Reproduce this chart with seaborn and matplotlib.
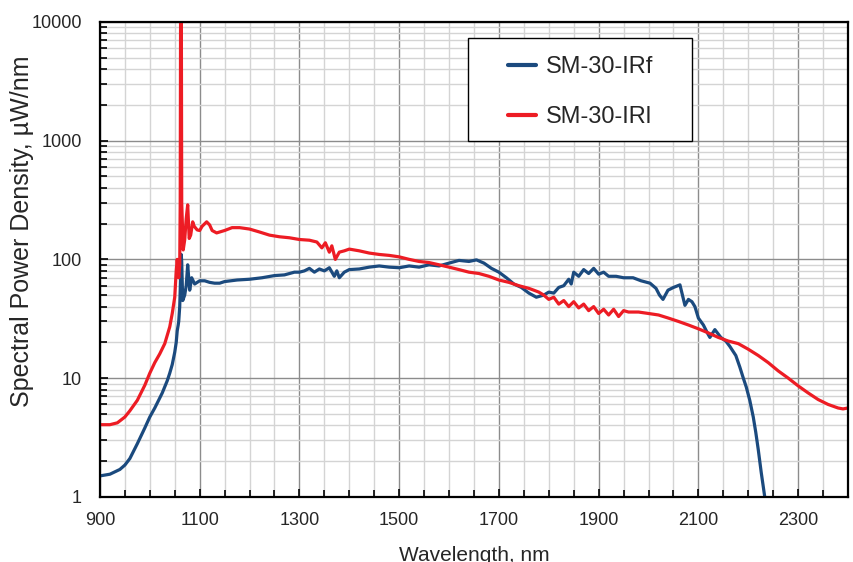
import numpy as np
import pandas as pd
import matplotlib
matplotlib.use("Agg")
import matplotlib.pyplot as plt
import matplotlib.ticker as mticker
from matplotlib.patches import Rectangle
import seaborn as sns

# =========================
# DATA
# =========================

irf_nm = [900, 920, 940, 950, 960, 975, 990, 1000, 1010, 1020, 1025, 1035, 1040,
          1045, 1050, 1053, 1055, 1057, 1058, 1060, 1061, 1063, 1064, 1066, 1070,
          1073, 1076, 1080, 1084, 1090, 1095, 1100, 1110, 1120, 1130, 1140, 1150,
          1175, 1200, 1225, 1250, 1270, 1290, 1300, 1310, 1320, 1330, 1340, 1350,
          1360, 1370, 1375, 1380, 1390, 1400, 1420, 1440, 1460, 1480, 1500, 1520,
          1540, 1560, 1580, 1600, 1620, 1640, 1655, 1670, 1685, 1700, 1715, 1730,
          1745, 1760, 1775, 1790, 1800, 1810, 1820, 1830, 1840, 1845, 1850, 1860,
          1870, 1880, 1890, 1900, 1910, 1920, 1935, 1950, 1969, 1985, 2003, 2015,
          2022, 2029, 2039, 2050, 2063, 2073, 2080, 2087, 2093, 2100, 2110, 2118,
          2123, 2133, 2145, 2155, 2163, 2175, 2183, 2190, 2196, 2203, 2210, 2215,
          2220, 2226, 2233]
irf_val = [1.50, 1.55, 1.7, 1.85, 2.1, 2.8, 3.8, 4.7, 5.6, 6.8, 7.5, 9.5, 11,
           13, 16.5, 20, 25, 28, 30, 40, 55, 110, 95, 45, 50,
           60, 90, 55, 70, 62, 64, 66, 66, 64, 63, 63, 65,
           67, 68, 70, 73, 74, 78, 78, 80, 84, 78, 83, 80,
           85, 72, 80, 70, 78, 82, 83, 86, 88, 86, 85, 88,
           86, 90, 88, 93, 98, 96, 99, 93, 84, 78, 70, 62,
           58, 52, 48, 50, 53, 52, 58, 60, 68, 62, 78, 72,
           82, 76, 84, 75, 78, 72, 72, 70, 70, 66, 63, 57,
           50, 46, 55, 58, 61, 41, 46, 44, 40, 32, 28, 24,
           22, 25.6, 22, 20.5, 18.5, 15.5, 12.4, 10, 8.4, 6.5, 4.7, 3.5,
           2.5, 1.6, 1.0]

irl_nm = [900, 920, 935, 950, 960, 975, 990, 1000, 1010, 1020, 1030, 1040, 1045,
          1050, 1053, 1055, 1058, 1060, 1061, 1062, 1063, 1064, 1067, 1070, 1073,
          1076, 1079, 1082, 1086, 1089, 1095, 1100, 1105, 1114, 1120, 1125, 1134,
          1150, 1165, 1180, 1200, 1220, 1240, 1260, 1280, 1300, 1320, 1335, 1345,
          1352, 1360, 1365, 1372, 1380, 1390, 1400, 1420, 1440, 1460, 1480, 1500,
          1520, 1540, 1560, 1580, 1600, 1620, 1640, 1660, 1680, 1700, 1720, 1740,
          1760, 1770, 1780, 1790, 1800, 1810, 1820, 1830, 1840, 1850, 1860, 1870,
          1880, 1890, 1900, 1910, 1920, 1930, 1940, 1950, 1960, 1980, 2000, 2020,
          2040, 2060, 2080, 2100, 2120, 2140, 2160, 2180, 2200, 2220, 2240, 2260,
          2280, 2300, 2320, 2340, 2360, 2380, 2390, 2400]
irl_val = [4.05, 4.05, 4.2, 4.7, 5.3, 6.5, 8.7, 11, 13.5, 16, 19.5, 27, 35,
           48, 80, 100, 70, 90, 300, 40000, 40000, 300, 120, 146, 220,
           288, 150, 160, 207, 190, 177, 175, 190, 207, 195, 175, 167,
           175, 185, 185, 180, 170, 160, 155, 152, 147, 145, 140, 125,
           138, 115, 130, 100, 115, 118, 122, 118, 113, 110, 108, 105,
           100, 96, 94, 90, 86, 82, 78, 76, 72, 67, 64, 60,
           57, 55, 53, 50, 46, 48, 42, 45, 40, 44, 39, 42,
           37, 40, 35, 38, 34, 38, 33, 37, 36, 36, 35, 34,
           32, 30, 28, 26, 24, 22, 20.5, 19.5, 17.5, 15.5, 13.5, 11.5,
           10, 8.6, 7.5, 6.6, 6.0, 5.6, 5.5, 5.6]

series_names = ["SM-30-IRf", "SM-30-IRl"]
series_colors = ["#1b4a7e", "#ed1c24"]

x_major = [900, 1100, 1300, 1500, 1700, 1900, 2100, 2300]
y_major = [1, 10, 100, 1000, 10000]

df = pd.concat([
    pd.DataFrame({"nm": irf_nm, "val": irf_val, "series": series_names[0]}),
    pd.DataFrame({"nm": irl_nm, "val": irl_val, "series": series_names[1]}),
], ignore_index=True)

# =========================
# PLOT
# =========================

sns.set_style("white")
plt.rcParams["font.family"] = ["Liberation Sans", "DejaVu Sans"]

fig, ax = plt.subplots(figsize=(8.54, 5.62), dpi=100)
fig.subplots_adjust(left=0.117, right=0.993, top=0.961, bottom=0.116)

sns.lineplot(data=df, x="nm", y="val", hue="series", palette=series_colors,
             estimator=None, sort=False, linewidth=2.3, ax=ax)

ax.set_yscale("log")
ax.set_xlim(900, 2400)
ax.set_ylim(1, 10000)

ax.set_xticks(x_major)
ax.xaxis.set_minor_locator(mticker.MultipleLocator(50))
ax.set_yticks(y_major)
ax.set_yticklabels([str(v) for v in y_major])
ax.yaxis.set_minor_locator(mticker.LogLocator(base=10, subs=np.arange(2, 10)))
ax.yaxis.set_minor_formatter(mticker.NullFormatter())

ax.grid(which="major", color="#8c8c8c", linewidth=1.0)
ax.grid(which="minor", color="#d4d4d4", linewidth=1.0)
ax.set_axisbelow(True)

for sp in ax.spines.values():
    sp.set_color("black")
    sp.set_linewidth(1.6)

ax.tick_params(which="both", direction="in", bottom=True, left=True,
               top=False, right=False, color="black", width=1.2)
ax.tick_params(which="major", length=6, labelsize=13, pad=11)
ax.tick_params(axis="y", which="major", pad=13)
ax.tick_params(which="minor", length=5)

ax.set_xlabel("Wavelength, nm", fontsize=15, labelpad=12)
ax.set_ylabel("Spectral Power Density, µW/nm", fontsize=18)
ax.yaxis.set_label_coords(-0.088, 0.56)

# legend box drawn as a plain rectangle, entries placed inside without frame
ax.add_patch(Rectangle((0.492, 0.749), 0.299, 0.217, transform=ax.transAxes,
                       facecolor="white", edgecolor="black", linewidth=1.0,
                       zorder=4))
handles, labels = ax.get_legend_handles_labels()
leg = ax.legend(handles, labels, loc="upper left", bbox_to_anchor=(0.545, 0.928),
                fontsize=17, frameon=False, labelspacing=1.2,
                handlelength=1.2, handletextpad=0.4, borderaxespad=0,
                borderpad=0)
leg.set_zorder(5)
for line in leg.get_lines():
    line.set_linewidth(3)

fig.savefig("out.png", dpi=100)
